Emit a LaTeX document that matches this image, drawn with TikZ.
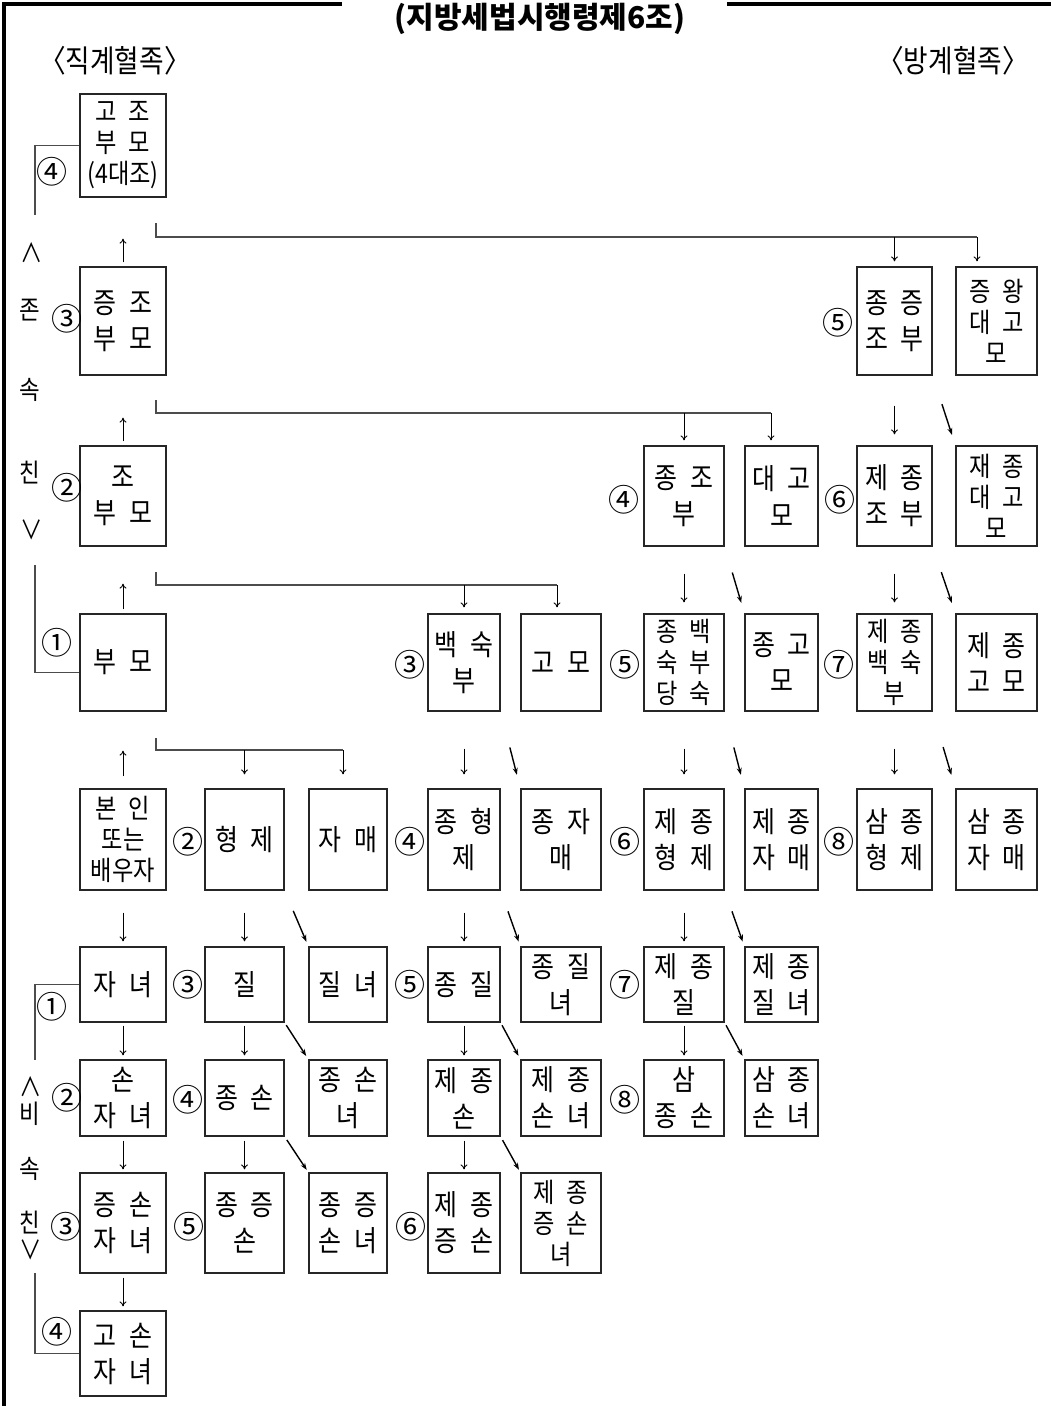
\documentclass[tikz,border=0pt]{standalone}
\usepackage{fontspec}
\usetikzlibrary{arrows.meta}
\newfontfamily\kr[FakeStretch=0.86,WordSpace=2.2]{Noto Sans CJK KR}
\newfontfamily\krplain{Noto Sans CJK KR}
\newcommand\boxfont{\kr\fontsize{29}{36}\selectfont}
\newcommand\boxfontsm{\kr\fontsize{27}{31}\selectfont}
\newcommand\numfont{\krplain\fontsize{31}{31}\selectfont}
\newcommand\sidefont{\kr\fontsize{26}{26}\selectfont}
\newcommand\headfont{\kr\fontsize{31}{31}\selectfont}
\newcommand\titlefont{\krplain\bfseries\fontsize{30}{30}\selectfont}

\begin{document}
\begin{tikzpicture}[x=1pt, y=-1pt,
    box/.style={draw=black!85, line width=1.2pt, inner sep=0pt, align=center, font=\boxfont},
    sz/.style 2 args={minimum width=#1pt, minimum height=#2pt},
    tight/.style={font=\boxfontsm},
    num/.style={font=\numfont, inner sep=0pt},
    side/.style={font=\sidefont, inner sep=0pt},
    tie/.style={draw=black!70, line width=1.2pt},
    arr/.style={-{To[length=5pt,width=7pt]}, line width=0.9pt},
    diag/.style={-{Stealth[length=7pt,width=5pt]}, line width=1.4pt},
    g1/.style={shorten <=30pt, shorten >=11pt},
    g2/.style={shorten <=27pt, shorten >=11pt},
    g3/.style={shorten <=37pt, shorten >=14pt},
    g4/.style={shorten <=22pt, shorten >=5pt},
    g5/.style={shorten <=3pt, shorten >=4pt},
    g6/.style={shorten <=4pt, shorten >=3pt},
    g7/.style={shorten <=4pt, shorten >=4pt}
]
\useasboundingbox (0,0) rectangle (1051,1406);

% frame and heading
\draw[line width=4.5pt] (342,4) -- (4,4) -- (4,1406);
\draw[line width=4.5pt] (727,4) -- (1051,4);
\node[font=\titlefont, anchor=base] (title) at (540,28) {(지방세법시행령제6조)};
\node[font=\headfont] (jikgye) at (115,61) {〈직계혈족〉};
\node[font=\headfont] (banggye) at (953,61) {〈방계혈족〉};

% 직계 (left column)
\node[box, tight, sz={86}{103}] (gojo)     at (123,145.5) {고 조\\부 모\\(4대조)};
\node[box, sz={86}{108}]        (jeungjo)  at (123,321)   {증 조\\부 모};
\node[box, sz={86}{100}]        (jobumo)   at (123,496)   {조\\부 모};
\node[box, sz={86}{97}]         (bumo)     at (123,662.5) {부 모};
\node[box, tight, sz={86}{101}] (bonin)    at (123,839.5) {본 인\\또는\\배우자};
\node[box, sz={86}{75}]         (jayeo)    at (123,984.5) {자 녀};
\node[box, sz={86}{76}]         (sonja)    at (123,1098)  {손\\자 녀};
\node[box, sz={86}{100}]        (jeungson) at (123,1223)  {증 손\\자 녀};
\node[box, sz={86}{85}]         (goson)    at (123,1353.5){고 손\\자 녀};

% 방계 - 증조 level
\node[box, sz={75}{108}]        (jongjeungjo) at (894.5,321) {종 증\\조 부};
\node[box, tight, sz={81}{108}] (jeungwang)   at (996.5,321) {증 왕\\대 고\\모};

% 방계 - 조부 level
\node[box, sz={80}{100}]        (jongjo)   at (684,496)   {종 조\\부};
\node[box, sz={73}{100}]        (daego)    at (781.5,496) {대 고\\모};
\node[box, sz={75}{100}]        (jejongjo) at (894.5,496) {제 종\\조 부};
\node[box, tight, sz={81}{100}] (jaedaego) at (996.5,496) {재 종\\대 고\\모};

% 방계 - 부모 level
\node[box, sz={72}{97}]         (baeksuk)    at (464,662.5)   {백 숙\\부};
\node[box, sz={80}{97}]         (gomo)       at (561,662.5)   {고 모};
\node[box, tight, sz={80}{97}]  (jongbaek)   at (684,662.5)   {종 백\\숙 부\\당 숙};
\node[box, sz={73}{97}]         (jonggomo)   at (781.5,662.5) {종 고\\모};
\node[box, tight, sz={75}{97}]  (jejongbaek) at (894.5,662.5) {제 종\\백 숙\\부};
\node[box, sz={81}{97}]         (jejonggomo) at (996.5,662.5) {제 종\\고 모};

% 방계 - 본인 level
\node[box, sz={79}{101}] (hyeongje) at (244.5,839.5) {형 제};
\node[box, sz={78}{101}] (jamae)    at (348,839.5)   {자 매};
\node[box, sz={72}{101}] (jonghj)   at (464,839.5)   {종 형\\제};
\node[box, sz={80}{101}] (jongjm)   at (561,839.5)   {종 자\\매};
\node[box, sz={80}{101}] (jejonghj) at (684,839.5)   {제 종\\형 제};
\node[box, sz={73}{101}] (jejongjm) at (781.5,839.5) {제 종\\자 매};
\node[box, sz={75}{101}] (samhj)    at (894.5,839.5) {삼 종\\형 제};
\node[box, sz={81}{101}] (samjm)    at (996.5,839.5) {삼 종\\자 매};

% 방계 - 자녀 level
\node[box, sz={79}{75}] (jil)           at (244.5,984.5) {질};
\node[box, sz={78}{75}] (jilnyeo)       at (348,984.5)   {질 녀};
\node[box, sz={72}{75}] (jongjil)       at (464,984.5)   {종 질};
\node[box, sz={80}{75}] (jongjilnyeo)   at (561,984.5)   {종 질\\녀};
\node[box, sz={80}{75}] (jejongjil)     at (684,984.5)   {제 종\\질};
\node[box, sz={73}{75}] (jejongjilnyeo) at (781.5,984.5) {제 종\\질 녀};

% 방계 - 손자녀 level
\node[box, sz={79}{76}] (jongson)       at (244.5,1098) {종 손};
\node[box, sz={78}{76}] (jongsonnyeo)   at (348,1098)   {종 손\\녀};
\node[box, sz={72}{76}] (jejongson)     at (464,1098)   {제 종\\손};
\node[box, sz={80}{76}] (jejongsonnyeo) at (561,1098)   {제 종\\손 녀};
\node[box, sz={80}{76}] (samson)        at (684,1098)   {삼\\종 손};
\node[box, sz={73}{76}] (samsonnyeo)    at (781.5,1098) {삼 종\\손 녀};

% 방계 - 증손자녀 level
\node[box, sz={79}{100}]        (jongjs)    at (244.5,1223) {종 증\\손};
\node[box, sz={78}{100}]        (jongjsn)   at (348,1223)   {종 증\\손 녀};
\node[box, sz={72}{100}]        (jejongjs)  at (464,1223)   {제 종\\증 손};
\node[box, tight, sz={80}{100}] (jejongjsn) at (561,1223)   {제 종\\증 손\\녀};

% 존속친 / 비속친
\node[side] (jon1) at (32,253)  {∧};
\node[side] (jon2) at (30,310)  {존};
\node[side] (jon3) at (30,390)  {속};
\node[side] (jon4) at (30,473)  {친};
\node[side] (jon5) at (32,530)  {∨};
\node[side] (bi1)  at (31,1087) {∧};
\node[side] (bi2)  at (30,1114) {비};
\node[side] (bi3)  at (30,1169) {속};
\node[side] (bi4)  at (30,1222) {친};
\node[side] (bi5)  at (31,1250) {∨};

% 촌수
\node[num] (n01) at (52,172)   {④};
\node[num] (n02) at (67,319)   {③};
\node[num] (n03) at (67,488)   {②};
\node[num] (n04) at (57,643)   {①};
\node[num] (n05) at (838,323)  {⑤};
\node[num] (n06) at (624,500)  {④};
\node[num] (n07) at (840,500)  {⑥};
\node[num] (n08) at (410,665)  {③};
\node[num] (n09) at (625,665)  {⑤};
\node[num] (n10) at (839,665)  {⑦};
\node[num] (n11) at (188,842)  {②};
\node[num] (n12) at (410,842)  {④};
\node[num] (n13) at (625,842)  {⑥};
\node[num] (n14) at (839,842)  {⑧};
\node[num] (n15) at (52,1007)  {①};
\node[num] (n16) at (188,985)  {③};
\node[num] (n17) at (410,985)  {⑤};
\node[num] (n18) at (625,985)  {⑦};
\node[num] (n19) at (67,1098)  {②};
\node[num] (n20) at (188,1100) {④};
\node[num] (n21) at (625,1100) {⑧};
\node[num] (n22) at (66,1227)  {③};
\node[num] (n23) at (189,1227) {⑤};
\node[num] (n24) at (411,1227) {⑥};
\node[num] (n25) at (57,1332)  {④};

% brackets on the left
\coordinate (e1) at (35,215);
\coordinate (e2) at (35,565);
\coordinate (e3) at (35,1060);
\coordinate (e4) at (35,1273);
\draw[tie] (gojo.west) -| (e1);
\draw[tie] (e2) |- ([yshift=-10pt]bumo.west);
\draw[tie] (jayeo.west) -| (e3);
\draw[tie] (e4) |- (goson.west);

% up along the 존속 line
\draw[arr, shorten <=4pt, shorten >=41pt] (jeungjo) -- (gojo);
\draw[arr, shorten <=4pt, shorten >=42pt] (jobumo) -- (jeungjo);
\draw[arr, shorten <=4pt, shorten >=37pt] (bumo) -- (jobumo);
\draw[arr, shorten <=12pt, shorten >=39pt] (bonin) -- (bumo);

% down along the 비속 line
\draw[arr, g4] (bonin) -- (jayeo);
\draw[arr, g5] (jayeo) -- (sonja);
\draw[arr, g6] (sonja) -- (jeungson);
\draw[arr, g7] (jeungson) -- (goson);

% branches to the 방계
\coordinate (k1a) at (156,223);
\coordinate (k1b) at (977,237);
\draw[tie] (k1a) |- (k1b);
\draw[arr, shorten >=5pt] (k1b -| jongjeungjo) -- (jongjeungjo);
\draw[arr, shorten >=5pt] (k1b) -- (k1b |- jeungwang.north);

\coordinate (k2a) at (156,400);
\coordinate (k2b) at (771,413);
\draw[tie] (k2a) |- (k2b);
\draw[arr, shorten >=5pt] (k2b -| jongjo) -- (jongjo);
\draw[arr, shorten >=5pt] (k2b) -- (k2b |- daego.north);

\coordinate (k3a) at (156,572);
\coordinate (k3b) at (557,585);
\draw[tie] (k3a) |- (k3b);
\draw[arr, shorten >=6pt] (k3b -| baeksuk) -- (baeksuk);
\draw[arr, shorten >=6pt] (k3b) -- (k3b |- gomo.north);

\coordinate (k4a) at (156,738);
\coordinate (k4b) at (343,750);
\draw[tie] (k4a) |- (k4b);
\draw[arr, shorten >=14pt] (k4b -| hyeongje) -- (hyeongje);
\draw[arr, shorten >=14pt] (k4b) -- (k4b |- jamae.north);

% 방계 descent
\draw[arr, g1] (jongjeungjo) -- (jejongjo);
\draw[diag, g1] (jongjeungjo.south east) -- (jaedaego.north west);

\draw[arr, g2] (jongjo) -- (jongbaek);
\draw[diag, g2] (jongjo.south east) -- (jonggomo.north west);
\draw[arr, g2] (jejongjo) -- (jejongbaek);
\draw[diag, g2] (jejongjo.south east) -- (jejonggomo.north west);

\draw[arr, g3] (baeksuk) -- (jonghj);
\draw[diag, g3] (baeksuk.south east) -- (jongjm.north west);
\draw[arr, g3] (jongbaek) -- (jejonghj);
\draw[diag, g3] (jongbaek.south east) -- (jejongjm.north west);
\draw[arr, g3] (jejongbaek) -- (samhj);
\draw[diag, g3] (jejongbaek.south east) -- (samjm.north west);

\draw[arr, g4] (hyeongje) -- (jil);
\draw[diag, g4] (hyeongje.south east) -- (jilnyeo.north west);
\draw[arr, g4] (jonghj) -- (jongjil);
\draw[diag, g4] (jonghj.south east) -- (jongjilnyeo.north west);
\draw[arr, g4] (jejonghj) -- (jejongjil);
\draw[diag, g4] (jejonghj.south east) -- (jejongjilnyeo.north west);

\draw[arr, g5] (jil) -- (jongson);
\draw[diag, g5] (jil.south east) -- (jongsonnyeo.north west);
\draw[arr, g5] (jongjil) -- (jejongson);
\draw[diag, g5] (jongjil.south east) -- (jejongsonnyeo.north west);
\draw[arr, g5] (jejongjil) -- (samson);
\draw[diag, g5] (jejongjil.south east) -- (samsonnyeo.north west);

\draw[arr, g6] (jongson) -- (jongjs);
\draw[diag, g6] (jongson.south east) -- (jongjsn.north west);
\draw[arr, g6] (jejongson) -- (jejongjs);
\draw[diag, g6] (jejongson.south east) -- (jejongjsn.north west);

\end{tikzpicture}
\end{document}
